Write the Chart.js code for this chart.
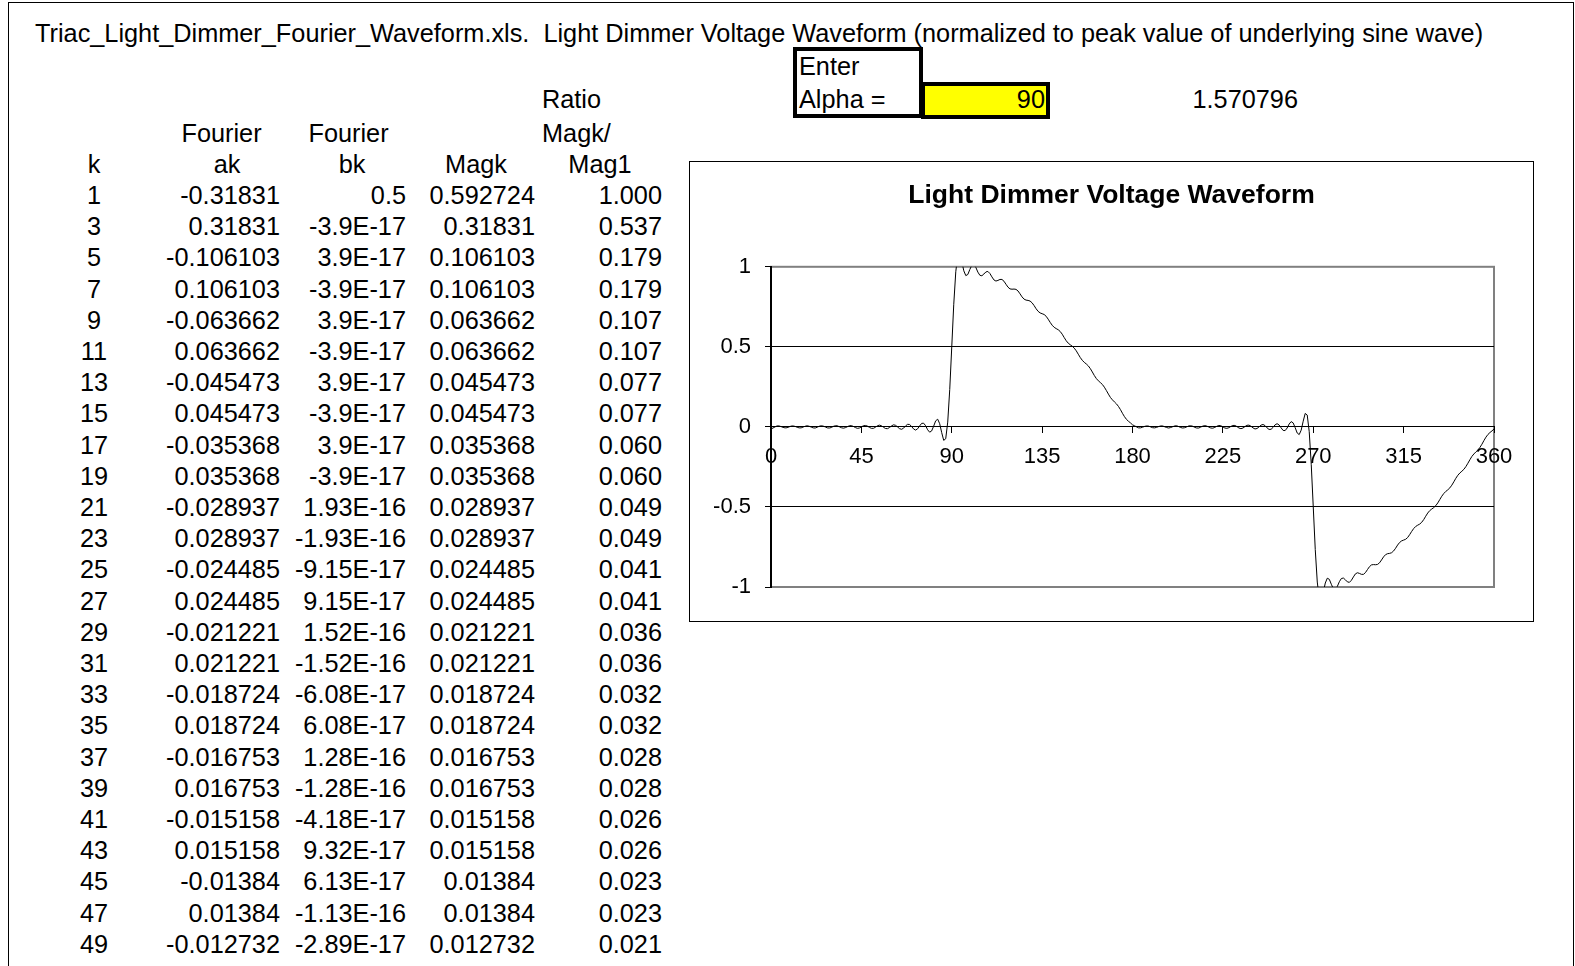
<!DOCTYPE html>
<html>
<head>
<meta charset="utf-8">
<title>Light Dimmer Voltage Waveform</title>
<script src="https://cdn.jsdelivr.net/npm/chart.js@4.4.0/dist/chart.umd.min.js"></script>
<style>
  html, body { margin: 0; padding: 0; background: #fff; }
  body { width: 1575px; height: 966px; position: relative; overflow: hidden;
         font-family: "Liberation Sans", Arial, sans-serif; font-size: 25.3px; color: #000; }
  #sheet { position: absolute; left: 8px; top: 2px; width: 1566px; height: 990px;
           border: 1px solid #000; box-sizing: border-box; }
  .t { position: absolute; white-space: nowrap; line-height: 28px; height: 28px; }
  #alphaBox { position: absolute; left: 793px; top: 47px; width: 130px; height: 71px;
              border: 4px solid #000; box-sizing: border-box; }
  #alphaCell { position: absolute; left: 921px; top: 82px; width: 129px; height: 37px;
               border: 4px solid #000; box-sizing: border-box; background: #ffff00; }
  #chartBox { position: absolute; left: 689px; top: 161px; width: 845px; height: 461px;
              border: 1px solid #000; box-sizing: border-box; background: #fff; }
  #chartBox canvas { display: block; }
</style>
</head>
<body>
<div id="sheet"></div>
<div id="alphaBox"></div>
<div id="alphaCell"></div>
<div id="chartBox"><canvas id="mycanvas" width="843" height="459"></canvas></div>

<script>
// spreadsheet table
var kVals = [1, 3, 5, 7, 9, 11, 13, 15, 17, 19, 21, 23, 25, 27, 29, 31, 33, 35, 37, 39, 41, 43, 45, 47, 49];
var akVals = ["-0.31831", "0.31831", "-0.106103", "0.106103", "-0.063662", "0.063662", "-0.045473", "0.045473",
  "-0.035368", "0.035368", "-0.028937", "0.028937", "-0.024485", "0.024485", "-0.021221", "0.021221",
  "-0.018724", "0.018724", "-0.016753", "0.016753", "-0.015158", "0.015158", "-0.01384", "0.01384", "-0.012732"];
var bkVals = ["0.5", "-3.9E-17", "3.9E-17", "-3.9E-17", "3.9E-17", "-3.9E-17", "3.9E-17", "-3.9E-17",
  "3.9E-17", "-3.9E-17", "1.93E-16", "-1.93E-16", "-9.15E-17", "9.15E-17", "1.52E-16", "-1.52E-16",
  "-6.08E-17", "6.08E-17", "1.28E-16", "-1.28E-16", "-4.18E-17", "9.32E-17", "6.13E-17", "-1.13E-16", "-2.89E-17"];
var magkVals = ["0.592724", "0.31831", "0.106103", "0.106103", "0.063662", "0.063662", "0.045473", "0.045473",
  "0.035368", "0.035368", "0.028937", "0.028937", "0.024485", "0.024485", "0.021221", "0.021221",
  "0.018724", "0.018724", "0.016753", "0.016753", "0.015158", "0.015158", "0.01384", "0.01384", "0.012732"];
var ratioVals = ["1.000", "0.537", "0.179", "0.179", "0.107", "0.107", "0.077", "0.077", "0.060", "0.060",
  "0.049", "0.049", "0.041", "0.041", "0.036", "0.036", "0.032", "0.032", "0.028", "0.028",
  "0.026", "0.026", "0.023", "0.023", "0.021"];
var alphaDeg = "90";
var alphaRad = "1.570796";

// chart: degrees on x (one sample per degree), normalized voltage on y
var degStep = 1;
var voltage = [
  -0.013, -0.007, 0.000, 0.006, 0.006, 0.002, -0.003, -0.006, -0.005, 0.000,
  0.005, 0.006, 0.003, -0.002, -0.006, -0.006, -0.001, 0.004, 0.007, 0.004,
  -0.001, -0.006, -0.007, -0.002, 0.004, 0.007, 0.005, 0.000, -0.006, -0.007,
  -0.004, 0.003, 0.007, 0.007, 0.001, -0.005, -0.008, -0.005, 0.001, 0.007,
  0.008, 0.003, -0.004, -0.009, -0.007, 0.000, 0.007, 0.009, 0.005, -0.003,
  -0.009, -0.009, -0.002, 0.007, 0.011, 0.007, -0.002, -0.010, -0.011, -0.004,
  0.006, 0.013, 0.010, 0.000, -0.011, -0.015, -0.008, 0.006, 0.016, 0.015,
  0.003, -0.013, -0.020, -0.012, 0.006, 0.022, 0.023, 0.007, -0.018, -0.033,
  -0.025, 0.005, 0.038, 0.048, 0.020, -0.036, -0.084, -0.074, 0.030, 0.234,
  0.500, 0.766, 0.969, 1.073, 1.082, 1.032, 0.975, 0.945, 0.952, 0.983,
  1.010, 1.015, 0.996, 0.967, 0.947, 0.944, 0.955, 0.968, 0.971, 0.958,
  0.937, 0.918, 0.911, 0.915, 0.921, 0.921, 0.910, 0.891, 0.873, 0.862,
  0.860, 0.861, 0.859, 0.849, 0.831, 0.812, 0.798, 0.792, 0.790, 0.786,
  0.775, 0.758, 0.738, 0.722, 0.712, 0.707, 0.702, 0.691, 0.673, 0.653,
  0.635, 0.622, 0.614, 0.607, 0.596, 0.579, 0.558, 0.538, 0.523, 0.513,
  0.504, 0.492, 0.475, 0.454, 0.433, 0.416, 0.403, 0.393, 0.381, 0.364,
  0.343, 0.321, 0.302, 0.288, 0.277, 0.265, 0.248, 0.227, 0.205, 0.184,
  0.169, 0.156, 0.144, 0.128, 0.108, 0.085, 0.064, 0.047, 0.035, 0.025, 0.013,
  0.007, 0.000, -0.006, -0.006, -0.002, 0.003, 0.006, 0.005, 0.000,
  -0.005, -0.006, -0.003, 0.002, 0.006, 0.006, 0.001, -0.004, -0.007, -0.004,
  0.001, 0.006, 0.007, 0.002, -0.004, -0.007, -0.005, 0.000, 0.006, 0.007,
  0.004, -0.003, -0.007, -0.007, -0.001, 0.005, 0.008, 0.005, -0.001, -0.007,
  -0.008, -0.003, 0.004, 0.009, 0.007, 0.000, -0.007, -0.009, -0.005, 0.003,
  0.009, 0.009, 0.002, -0.007, -0.011, -0.007, 0.002, 0.010, 0.011, 0.004,
  -0.006, -0.013, -0.010, 0.000, 0.011, 0.015, 0.008, -0.006, -0.016, -0.015,
  -0.003, 0.013, 0.020, 0.012, -0.006, -0.022, -0.023, -0.007, 0.018, 0.033,
  0.025, -0.005, -0.038, -0.048, -0.020, 0.036, 0.084, 0.074, -0.030, -0.234,
  -0.500, -0.766, -0.969, -1.073, -1.082, -1.032, -0.975, -0.945, -0.952, -0.983,
  -1.010, -1.015, -0.996, -0.967, -0.947, -0.944, -0.955, -0.968, -0.971, -0.958,
  -0.937, -0.918, -0.911, -0.915, -0.921, -0.921, -0.910, -0.891, -0.873, -0.862,
  -0.860, -0.861, -0.859, -0.849, -0.831, -0.812, -0.798, -0.792, -0.790, -0.786,
  -0.775, -0.758, -0.738, -0.722, -0.712, -0.707, -0.702, -0.691, -0.673, -0.653,
  -0.635, -0.622, -0.614, -0.607, -0.596, -0.579, -0.558, -0.538, -0.523, -0.513,
  -0.504, -0.492, -0.475, -0.454, -0.433, -0.416, -0.403, -0.393, -0.381, -0.364,
  -0.343, -0.321, -0.302, -0.288, -0.277, -0.265, -0.248, -0.227, -0.205, -0.184,
  -0.169, -0.156, -0.144, -0.128, -0.108, -0.085, -0.064, -0.047, -0.035, -0.025, -0.013
];
var xTicks = [0, 45, 90, 135, 180, 225, 270, 315, 360];
var yTicks = [-1, -0.5, 0, 0.5, 1];

// ---- text cells ----
function put(txt, x, y, align) {
  var d = document.createElement('div');
  d.className = 't';
  d.textContent = txt;
  d.style.top = (y - 14) + 'px';
  if (align === 'right') {
    d.style.right = (1575 - x) + 'px';
  } else if (align === 'center') {
    d.style.left = x + 'px';
    d.style.transform = 'translateX(-50%)';
  } else {
    d.style.left = x + 'px';
  }
  document.body.appendChild(d);
}

put("Triac_Light_Dimmer_Fourier_Waveform.xls.\u00a0\u00a0Light Dimmer Voltage Waveform (normalized to peak value of underlying sine wave)", 35, 33);
put("Enter", 799, 66);
put("Alpha =", 799, 99);
put(alphaDeg, 1045, 99, 'right');
put(alphaRad, 1298, 99, 'right');
put("Ratio", 542, 98.5);
put("Fourier", 221.5, 133, 'center');
put("Fourier", 348.5, 133, 'center');
put("Magk/", 542, 133);
put("k", 94, 164, 'center');
put("ak", 227, 164, 'center');
put("bk", 352, 164, 'center');
put("Magk", 476, 164, 'center');
put("Mag1", 600, 164, 'center');

for (var i = 0; i < kVals.length; i++) {
  var y = 195 + i * 31.2;
  put(String(kVals[i]), 94, y, 'center');
  put(akVals[i], 280, y, 'right');
  put(bkVals[i], 406, y, 'right');
  put(magkVals[i], 535, y, 'right');
  put(ratioVals[i], 662, y, 'right');
}

// ---- chart ----
Chart.defaults.font.family = '"Liberation Sans", Arial, sans-serif';
Chart.defaults.color = '#000';

var points = voltage.map(function (v, i) { return { x: i * degStep, y: v }; });

// gray frame around the plot area, like the Excel plot area border
var plotFrame = {
  id: 'plotFrame',
  beforeDraw: function (chart) {
    var a = chart.chartArea, c = chart.ctx;
    c.save();
    c.strokeStyle = '#808080';
    c.lineWidth = 2;
    c.strokeRect(a.left, a.top, a.right - a.left, a.bottom - a.top);
    c.restore();
  }
};

var ctx = document.getElementById('mycanvas');
var waveChart = new Chart(ctx, {
  type: 'line',
  data: {
    datasets: [{
      label: 'Voltage',
      data: points,
      borderColor: '#000',
      borderWidth: 1,
      pointRadius: 0,
      tension: 0,
      fill: false
    }]
  },
  options: {
    responsive: false,
    animation: false,
    events: [],
    layout: { padding: { left: 0, right: 0, top: 0, bottom: 34 } },
    plugins: {
      legend: { display: false },
      tooltip: { enabled: false },
      title: {
        display: true,
        text: 'Light Dimmer Voltage Waveform',
        color: '#000',
        font: { size: 26.5, weight: 'bold' },
        padding: { top: 18, bottom: 55 }
      }
    },
    scales: {
      x: {
        type: 'linear',
        position: { y: 0 },
        min: 0,
        max: 360,
        afterBuildTicks: function (scale) {
          scale.ticks = xTicks.map(function (v) { return { value: v }; });
        },
        ticks: { font: { size: 22 }, padding: 11, maxRotation: 0, autoSkip: false },
        grid: { drawOnChartArea: false, drawTicks: true, tickLength: 6, color: '#000' },
        border: { color: '#000', width: 1 }
      },
      y: {
        min: -1,
        max: 1,
        afterBuildTicks: function (scale) {
          scale.ticks = yTicks.map(function (v) { return { value: v }; });
        },
        afterFit: function (scale) { scale.width = 81; },
        ticks: {
          font: { size: 22 },
          padding: 14,
          callback: function (v) { return String(v); }
        },
        grid: {
          tickLength: 6,
          tickColor: '#000',
          color: function (c) {
            if (c.tick && Math.abs(c.tick.value) === 1) return 'rgba(0,0,0,0)';
            return '#000';
          },
          lineWidth: 1
        },
        border: { color: '#000', width: 2 }
      },
      // empty right-hand axis: only keeps the gap between plot area and chart border
      yRight: {
        position: 'right',
        min: -1,
        max: 1,
        display: true,
        afterFit: function (scale) { scale.width = 39; },
        ticks: { display: false },
        grid: { display: false },
        border: { display: false }
      }
    }
  },
  plugins: [plotFrame]
});
</script>
</body>
</html>
